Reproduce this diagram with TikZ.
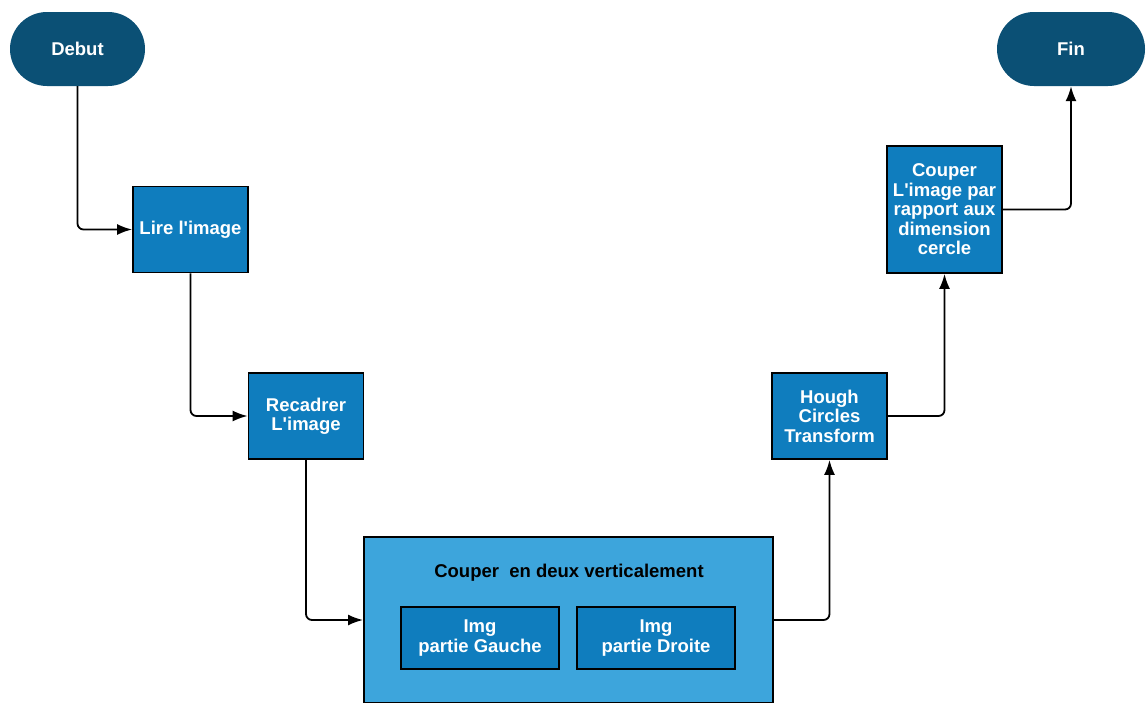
\documentclass[tikz,border=0pt]{standalone}
\usepackage{fontspec}
\setmainfont{Liberation Sans}
\usetikzlibrary{arrows.meta}
\definecolor{termblue}{HTML}{0B5075}
\definecolor{stepblue}{HTML}{0F7DBE}
\definecolor{groupblue}{HTML}{3DA5DC}

\begin{document}
\begin{tikzpicture}[x=1pt,y=-1pt,
    term/.style={fill=termblue,text=white,rounded corners=37pt,minimum width=135pt,minimum height=74pt,inner sep=0pt,font=\fontsize{18.5}{19.5}\selectfont\bfseries},
    stepbox/.style={draw=black,line width=1.8pt,fill=stepblue,text=white,minimum width=115pt,minimum height=86pt,inner sep=0pt,align=center,font=\fontsize{18.5}{19.5}\selectfont\bfseries},
    link/.style={-{Latex[length=15pt,width=11pt]},line width=1.8pt,rounded corners=6pt}]
    \useasboundingbox (0,0) rectangle (1147,702);
    \clip (0,0) rectangle (1147,702);
    % start / end
    \node[term] (debut) at (77.5,49) {Debut};
    \node[term,minimum width=148pt] (fin) at (1071,49) {Fin};
    % steps
    \node[stepbox] (lire) at (190.5,229.5) {Lire l\textquotesingle image};
    \node[stepbox] (recadrer) at (306,416) {Recadrer\\L\textquotesingle image};
    \node[stepbox,line width=2pt,fill=groupblue,text=black,minimum width=409pt,minimum height=166pt] (couper) at (568.5,620) {};
    \node[font=\fontsize{18.5}{19.5}\selectfont\bfseries] (titre) at (569,573) {Couper\ \ en deux verticalement};
    \node[stepbox,minimum width=158pt,minimum height=62pt] (gauche) at (480,638) {Img\\partie Gauche};
    \node[stepbox,minimum width=158pt,minimum height=62pt] (droite) at (656,638) {Img\\partie Droite};
    \node[stepbox] (hough) at (829.5,416) {Hough\\Circles\\Transform};
    \node[stepbox,minimum height=127pt] (cercle) at (944.5,209.5) {Couper\\L\textquotesingle image par\\rapport aux\\dimension\\cercle};
    % links
    \draw[link] (debut.south) |- (lire.west);
    \draw[link] (lire.south) |- (recadrer.west);
    \draw[link] (recadrer.south) |- (couper.west);
    \draw[link] (couper.east) -| (hough.south);
    \draw[link] (hough.east) -| (cercle.south);
    \draw[link] (cercle.east) -| (fin.south);
\end{tikzpicture}
\end{document}
